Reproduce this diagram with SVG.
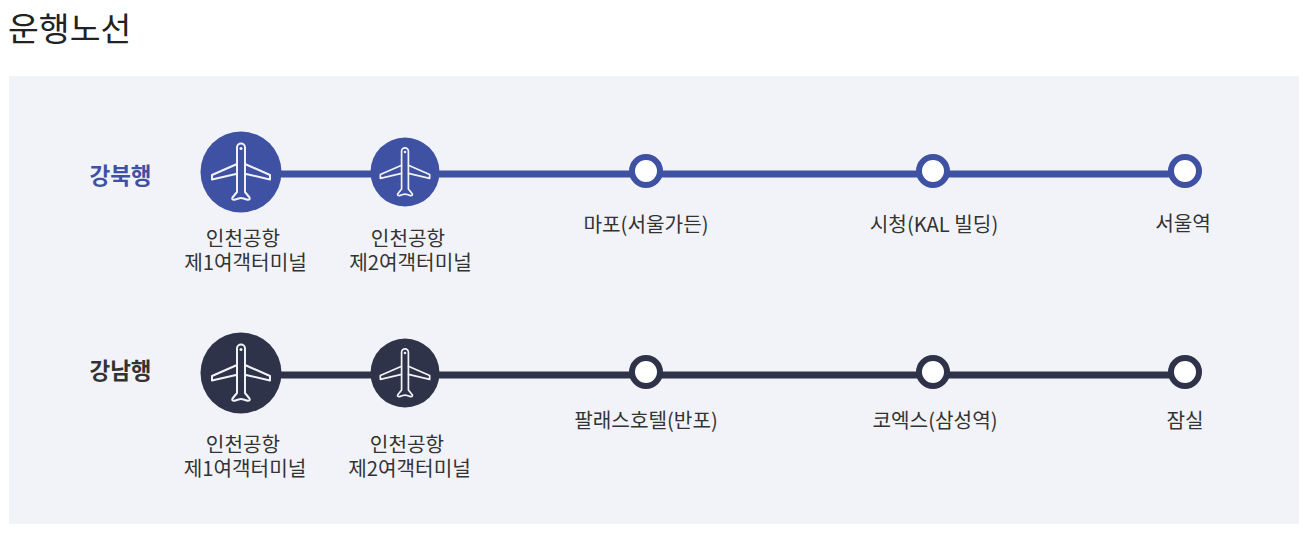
<svg xmlns="http://www.w3.org/2000/svg" width="1307" height="537" viewBox="0 0 1307 537">
<style>
text{font-family:"Noto Sans CJK KR","Noto Sans",sans-serif;fill:#333;font-size:20.200px;text-anchor:middle}
.title{font-size:33.500px;text-anchor:start;fill:#222;font-weight:400}
.dir{font-size:22.500px;font-weight:700}
.plane{fill:none;stroke:#f2f3f8;stroke-width:2;stroke-linejoin:round}
.blue .fill{fill:#3f51a3}.navy .fill{fill:#2f3349}
.blue .ring{fill:#fff;stroke:#3f51a3;stroke-width:6}.navy .ring{fill:#fff;stroke:#2f3349;stroke-width:6}
.ln{stroke-width:7;fill:none}
</style>
<defs>
<g id="plane"><path class="plane" d="M-4 -8V-24.500A4 4 0 0 1 4 -24.500V-8L29 3V7.500L4 1.700V20L8.500 25.500Q9.500 28 6.500 27.800L2.500 26.500Q0 25.700 -2.500 26.500L-6.500 27.800Q-9.500 28 -8.500 25.500L-4 20V1.700L-29 7.500V3Z"/><path class="plane" d="M-4 -8V1.700M4 -8V1.700"/><circle cx="0" cy="-23.500" r="1.500" fill="#f2f3f8"/></g>
</defs>
<rect x="9" y="76" width="1290" height="448" fill="#f2f3f8"/>
<text class="title" x="8" y="41">운행노선</text>
<g id="connectors">
<path class="ln" stroke="#3f51a3" d="M270 174H1175"/>
<path class="ln" stroke="#2f3349" d="M270 375H1175"/>
</g>
<g id="dir-north" class="blue"><text class="dir" x="120.500" y="184" style="fill:#3f51a3">강북행</text></g>
<g id="n1" class="blue"><circle class="fill" cx="241" cy="172" r="40.500"/><use href="#plane" x="241" y="172"/><text x="243" y="246">인천공항<tspan x="245.500" y="270">제1여객터미널</tspan></text></g>
<g id="n2" class="blue"><circle class="fill" cx="405" cy="172" r="34.500"/><use href="#plane" transform="translate(405 172) scale(.85)"/><text x="408" y="246">인천공항<tspan x="410.500" y="270">제2여객터미널</tspan></text></g>
<g id="n3" class="blue"><circle class="ring" cx="646" cy="171" r="14"/><text x="646" y="232">마포(서울가든)</text></g>
<g id="n4" class="blue"><circle class="ring" cx="933" cy="171" r="14"/><text x="934" y="232">시청(KAL 빌딩)</text></g>
<g id="n5" class="blue"><circle class="ring" cx="1185" cy="171" r="14"/><text x="1183" y="231">서울역</text></g>
<g id="dir-south" class="navy"><text class="dir" x="120.500" y="379">강남행</text></g>
<g id="s1" class="navy"><circle class="fill" cx="241" cy="373" r="40.500"/><use href="#plane" x="241" y="373"/><text x="243" y="451.500">인천공항<tspan x="245" y="475.500">제1여객터미널</tspan></text></g>
<g id="s2" class="navy"><circle class="fill" cx="405" cy="373" r="34.500"/><use href="#plane" transform="translate(405 373) scale(.85)"/><text x="407" y="451.500">인천공항<tspan x="409.500" y="475.500">제2여객터미널</tspan></text></g>
<g id="s3" class="navy"><circle class="ring" cx="646" cy="372" r="14"/><text x="646" y="428">팔래스호텔(반포)</text></g>
<g id="s4" class="navy"><circle class="ring" cx="933" cy="372" r="14"/><text x="935" y="428">코엑스(삼성역)</text></g>
<g id="s5" class="navy"><circle class="ring" cx="1185" cy="372" r="14"/><text x="1185" y="428">잠실</text></g>
</svg>
